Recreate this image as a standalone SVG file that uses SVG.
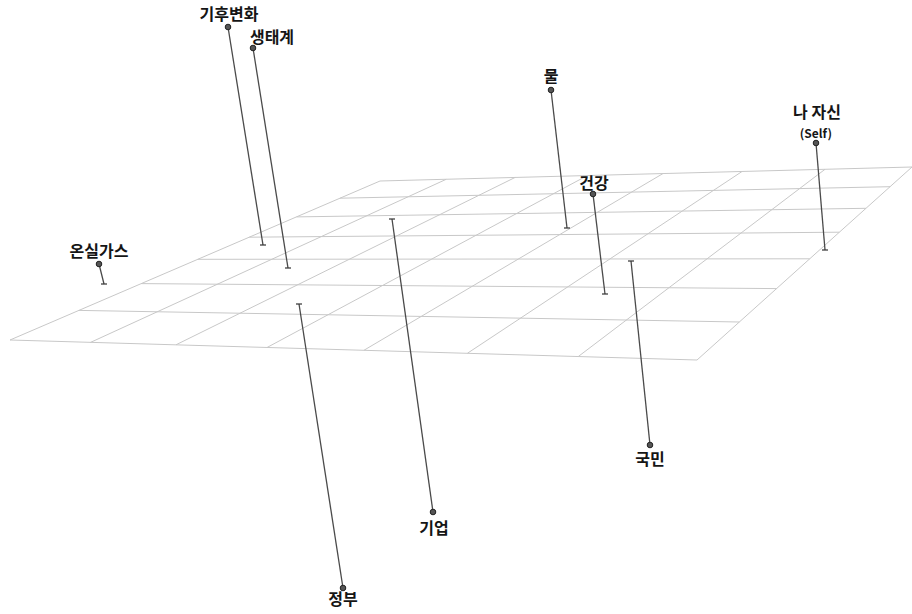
<svg xmlns="http://www.w3.org/2000/svg" width="912" height="614" viewBox="0 0 912 614">
<style>
.grid line{stroke:#c8c8c8;stroke-width:1;fill:none}
.stem{stroke:#4a4a4a;stroke-width:1.3;fill:none}
.tick{stroke:#333;stroke-width:1.2}
.dot{fill:#555;stroke:#222;stroke-width:1}
.lbl{font-family:"Noto Sans CJK KR","Noto Sans",sans-serif;font-weight:bold;font-size:16px;fill:#151515;text-anchor:middle}
.sub{font-size:12px}
</style>
<rect width="912" height="614" fill="#fff"/>
<g id="plane" class="grid">
<line x1="10" y1="340" x2="380" y2="181"/>
<line x1="90.5" y1="342.4" x2="446.2" y2="179.3"/>
<line x1="176" y1="344.8" x2="515.2" y2="177.4"/>
<line x1="267" y1="347.5" x2="587.4" y2="175.5"/>
<line x1="363.9" y1="350.3" x2="662.9" y2="173.6"/>
<line x1="467.4" y1="353.3" x2="742" y2="171.5"/>
<line x1="578.2" y1="356.6" x2="825" y2="169.3"/>
<line x1="697" y1="360" x2="912" y2="167"/>
<line x1="10" y1="340" x2="697" y2="360"/>
<line x1="78.9" y1="310.4" x2="739.3" y2="322"/>
<line x1="141.2" y1="283.6" x2="776.6" y2="288.6"/>
<line x1="197.8" y1="259.3" x2="809.7" y2="258.8"/>
<line x1="249.3" y1="237.2" x2="839.3" y2="232.2"/>
<line x1="296.6" y1="216.9" x2="866" y2="208.3"/>
<line x1="340" y1="198.2" x2="890.1" y2="186.7"/>
<line x1="380" y1="181" x2="912" y2="167"/>
</g>
<g id="connectors">
<line class="stem" x1="228" y1="27" x2="263" y2="245"/>
<line class="stem" x1="253" y1="48" x2="288" y2="268"/>
<line class="stem" x1="99" y1="264" x2="104" y2="284"/>
<line class="stem" x1="551" y1="90" x2="567" y2="228"/>
<line class="stem" x1="816" y1="143" x2="825" y2="250"/>
<line class="stem" x1="593" y1="194" x2="605" y2="294"/>
<line class="stem" x1="299" y1="304" x2="343" y2="588"/>
<line class="stem" x1="392" y1="219" x2="433" y2="512"/>
<line class="stem" x1="631" y1="261" x2="650" y2="445"/>
</g>
<g id="n-climate">
<line class="tick" x1="260" y1="245" x2="266" y2="245"/>
<circle class="dot" cx="228" cy="27" r="2.8"/>
<text class="lbl" x="229" y="20">기후변화</text>
</g>
<g id="n-ecosystem">
<line class="tick" x1="285" y1="268" x2="291" y2="268"/>
<circle class="dot" cx="253" cy="48" r="2.8"/>
<text class="lbl" x="272" y="43">생태계</text>
</g>
<g id="n-ghg">
<line class="tick" x1="101" y1="284" x2="107" y2="284"/>
<circle class="dot" cx="99" cy="264" r="2.8"/>
<text class="lbl" x="99" y="257">온실가스</text>
</g>
<g id="n-water">
<line class="tick" x1="564" y1="228" x2="570" y2="228"/>
<circle class="dot" cx="551" cy="90" r="2.8"/>
<text class="lbl" x="551" y="82">물</text>
</g>
<g id="n-self">
<line class="tick" x1="822" y1="250" x2="828" y2="250"/>
<circle class="dot" cx="816" cy="143" r="2.8"/>
<text class="lbl" x="817" y="118">나 자신</text>
<text class="lbl sub" x="816" y="138">(Self)</text>
</g>
<g id="n-health">
<line class="tick" x1="602" y1="294" x2="608" y2="294"/>
<circle class="dot" cx="593" cy="194" r="2.8"/>
<text class="lbl" x="594" y="189">건강</text>
</g>
<g id="n-gov">
<line class="tick" x1="296" y1="304" x2="302" y2="304"/>
<circle class="dot" cx="343" cy="588" r="2.8"/>
<text class="lbl" x="343" y="605">정부</text>
</g>
<g id="n-business">
<line class="tick" x1="389" y1="219" x2="395" y2="219"/>
<circle class="dot" cx="433" cy="512" r="2.8"/>
<text class="lbl" x="434" y="534">기업</text>
</g>
<g id="n-citizen">
<line class="tick" x1="628" y1="261" x2="634" y2="261"/>
<circle class="dot" cx="650" cy="445" r="2.8"/>
<text class="lbl" x="650" y="465">국민</text>
</g>
</svg>
